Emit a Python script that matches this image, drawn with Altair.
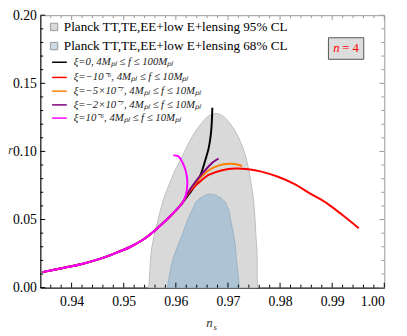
import altair as alt
import pandas as pd

# ---------------- data ----------------
# Planck 95% CL region: r levels with left / right n_s boundary
cl95_r = [0.0, 0.0119, 0.0238, 0.0357, 0.05, 0.0643, 0.0774, 0.0881, 0.0976, 0.1071, 0.1155, 0.1214, 0.1257, 0.1274, 0.128]
cl95_left = [0.9548, 0.9550, 0.9552, 0.9557, 0.9566, 0.9576, 0.9589, 0.9601, 0.9614, 0.9626, 0.9639, 0.9651, 0.9662, 0.9671, 0.9677]
cl95_right = [0.9757, 0.9756, 0.9756, 0.9754, 0.9752, 0.9749, 0.9744, 0.9739, 0.9733, 0.9724, 0.9713, 0.9702, 0.9691, 0.9683, 0.9677]

# Planck 68% CL region
cl68_r = [0.0, 0.0119, 0.0214, 0.031, 0.0405, 0.05, 0.0583, 0.0643, 0.0667, 0.0683, 0.0688]
cl68_left = [0.9584, 0.9589, 0.9595, 0.9604, 0.9614, 0.9623, 0.9633, 0.9642, 0.9651, 0.9660, 0.9665]
cl68_right = [0.9722, 0.9719, 0.9716, 0.9714, 0.9710, 0.9705, 0.9700, 0.9691, 0.9682, 0.9672, 0.9665]

trunk_ns = [0.9344, 0.9388, 0.9420, 0.9451, 0.9482, 0.9514, 0.9539, 0.9557, 0.9576, 0.9595, 0.9611]
trunk_r = [0.0114, 0.0148, 0.0174, 0.0207, 0.0250, 0.0302, 0.0357, 0.0410, 0.0476, 0.0548, 0.0614]

black_ns = trunk_ns + [0.9626, 0.9639, 0.9648, 0.9656, 0.9663, 0.9667, 0.9669, 0.9670]
black_r = trunk_r + [0.0690, 0.0762, 0.0833, 0.0929, 0.1024, 0.1119, 0.1214, 0.1321]

red_ns = trunk_ns + [0.9626, 0.9645, 0.9664, 0.9689, 0.9714, 0.9739, 0.9764, 0.9796, 0.9827, 0.9858, 0.9890, 0.9921, 0.9951]
red_r = trunk_r + [0.0702, 0.0774, 0.0829, 0.0862, 0.0874, 0.0869, 0.0852, 0.0814, 0.0762, 0.0690, 0.0619, 0.0529, 0.0436]

orange_ns = trunk_ns + [0.9626, 0.9645, 0.9664, 0.9683, 0.9702, 0.9714, 0.9727]
orange_r = trunk_r + [0.0710, 0.0798, 0.0864, 0.0898, 0.0910, 0.0907, 0.0893]

purple_ns = trunk_ns + [0.9626, 0.9642, 0.9658, 0.9670, 0.9682]
purple_r = trunk_r + [0.0714, 0.0798, 0.0869, 0.0917, 0.0948]

magenta_ns = trunk_ns + [0.9617, 0.9621, 0.9622, 0.9619, 0.9613, 0.9605, 0.9595]
magenta_r = trunk_r + [0.0655, 0.0714, 0.0786, 0.0857, 0.0917, 0.0964, 0.0971]

series_names = ["black", "red", "orange", "purple", "magenta"]
series_colors = ["#000000", "#ff0000", "#ff8000", "#800080", "#ff00ff"]
series_ns = [black_ns, red_ns, orange_ns, purple_ns, magenta_ns]
series_r = [black_r, red_r, orange_r, purple_r, magenta_r]
series_labels = [
    "ξ=0, 4Mₚₗ ≤ f ≤ 100Mₚₗ",
    "ξ=−10⁻⁶, 4Mₚₗ ≤ f ≤ 10Mₚₗ",
    "ξ=−5×10⁻⁷, 4Mₚₗ ≤ f ≤ 10Mₚₗ",
    "ξ=−2×10⁻⁷, 4Mₚₗ ≤ f ≤ 10Mₚₗ",
    "ξ=10⁻⁶, 4Mₚₗ ≤ f ≤ 10Mₚₗ",
]
region_labels = ["Planck TT,TE,EE+low E+lensing 95% CL", "Planck TT,TE,EE+low E+lensing 68% CL"]

x_major = [0.94, 0.95, 0.96, 0.97, 0.98, 0.99, 1.00]
y_major = [0.00, 0.05, 0.10, 0.15, 0.20]
x_minor = [round(0.934 + 0.002 * i, 3) for i in range(34)]
x_minor = [v for v in x_minor if round(v * 100, 6) % 1 != 0 and 0.934 < v < 1.0]
y_minor = [round(0.01 * i, 2) for i in range(1, 20) if i % 5 != 0]

# ---------------- layout ----------------
W, H = 351, 278
FONT = "Liberation Serif"
xs = alt.Scale(domain=[0.934, 1.0], nice=False, zero=False)
ys = alt.Scale(domain=[0.0, 0.2], nice=False, zero=False)

axis_common = dict(labelFont=FONT, labelFontSize=14, labelColor="black", tickSize=0,
                   domainColor="black", grid=False, title=None, format=".2f")

layers = []

# regions
df95 = pd.DataFrame({"r": cl95_r, "lo": cl95_left, "hi": cl95_right})
layers.append(
    alt.Chart(df95).mark_area(orient="horizontal", fill="#d9d9d9", stroke="#bdbdbd", strokeWidth=1, interpolate="monotone").encode(
        y=alt.Y("r:Q", scale=ys, axis=alt.Axis(values=y_major, labelPadding=4, **axis_common)),
        x=alt.X("lo:Q", scale=xs, axis=alt.Axis(values=x_major, labelPadding=7, **axis_common)),
        x2="hi:Q",
    )
)
df68 = pd.DataFrame({"r": cl68_r, "lo": cl68_left, "hi": cl68_right})
layers.append(
    alt.Chart(df68).mark_area(orient="horizontal", fill="#aec4d5", stroke="#98b3c8", strokeWidth=1, interpolate="monotone").encode(
        y=alt.Y("r:Q", scale=ys), x=alt.X("lo:Q", scale=xs), x2="hi:Q"
    )
)

# curves
for name, col, nsl, rl in zip(series_names, series_colors, series_ns, series_r):
    d = pd.DataFrame({"ns": nsl, "r": rl, "i": list(range(len(nsl)))})
    layers.append(
        alt.Chart(d).mark_line(color=col, strokeWidth=2, interpolate="catmull-rom", clip=True).encode(
            x=alt.X("ns:Q", scale=xs), y=alt.Y("r:Q", scale=ys), order="i:Q"
        )
    )

# frame ticks (inward, Mathematica style)
def xticks(vals, length, color):
    d = pd.DataFrame({"v": vals})
    b = alt.Chart(d).mark_rule(color=color, strokeWidth=1).encode(
        x=alt.X("v:Q", scale=xs), y=alt.value(H), y2=alt.value(H - length))
    t = alt.Chart(d).mark_rule(color="#999999", strokeWidth=1).encode(
        x=alt.X("v:Q", scale=xs), y=alt.value(0), y2=alt.value(length))
    return [b, t]

def yticks(vals, length, color):
    d = pd.DataFrame({"v": vals})
    l = alt.Chart(d).mark_rule(color=color, strokeWidth=1).encode(
        y=alt.Y("v:Q", scale=ys), x=alt.value(0), x2=alt.value(length))
    r = alt.Chart(d).mark_rule(color="#999999", strokeWidth=1).encode(
        y=alt.Y("v:Q", scale=ys), x=alt.value(W), x2=alt.value(W - length))
    return [l, r]

layers += xticks(x_major, 5, "black") + xticks(x_minor, 3, "black")
layers += yticks(y_major, 5, "black") + yticks(y_minor, 3, "black")

# legend
one = pd.DataFrame({"a": [0]})
reg_fill = ["#d9d9d9", "#c9dbe8"]
reg_y = [12, 31.5]
for lab, f, yy in zip(region_labels, reg_fill, reg_y):
    layers.append(alt.Chart(one).mark_square(size=56, fill=f, stroke="#999999", strokeWidth=1, opacity=1).encode(
        x=alt.value(14), y=alt.value(yy)))
    layers.append(alt.Chart(one).mark_text(text=lab, font=FONT, fontSize=13.4, align="left", baseline="middle", color="black").encode(
        x=alt.value(24), y=alt.value(yy)))

line_y = [48, 63.5, 77.5, 91.5, 105]
for lab, col, yy in zip(series_labels, series_colors, line_y):
    layers.append(alt.Chart(one).mark_rule(color=col, strokeWidth=1.5).encode(
        x=alt.value(12), x2=alt.value(27), y=alt.value(yy)))
    layers.append(alt.Chart(one).mark_text(text=lab, font=FONT, fontSize=11, fontStyle="italic", align="left", baseline="middle", color="#222222").encode(
        x=alt.value(34), y=alt.value(yy)))

# n = 4 box
layers.append(alt.Chart(one).mark_rect(fill="#dddddd", stroke="#555555", strokeWidth=1).encode(
    x=alt.value(294), x2=alt.value(330), y=alt.value(23), y2=alt.value(45)))
layers.append(alt.Chart(one).mark_text(text="n", font=FONT, fontSize=13, fontStyle="italic", align="left", baseline="middle", color="#ff0000").encode(
    x=alt.value(299), y=alt.value(34)))
layers.append(alt.Chart(one).mark_text(text="= 4", font=FONT, fontSize=13, align="left", baseline="middle", color="#ff0000").encode(
    x=alt.value(308), y=alt.value(34)))

# axis titles
layers.append(alt.Chart(one).mark_text(text="r", font=FONT, fontSize=12, fontStyle="italic", align="center", baseline="middle", color="#333333").encode(
    x=alt.value(-30.5), y=alt.value(138)))
layers.append(alt.Chart(one).mark_text(text="n", font=FONT, fontSize=13, fontStyle="italic", align="center", baseline="middle", color="#333333").encode(
    x=alt.value(172.5), y=alt.value(314)))
layers.append(alt.Chart(one).mark_text(text="s", font=FONT, fontSize=9, fontStyle="italic", align="center", baseline="middle", color="#333333").encode(
    x=alt.value(178.5), y=alt.value(318)))

chart = alt.layer(*layers).properties(
    width=W, height=H,
    autosize=alt.AutoSizeParams(type="none"),
    padding={"left": 33, "top": 4, "right": 15, "bottom": 46},
    background="white",
).configure_view(stroke="#999999", strokeWidth=1).configure_axis(
    labelFont=FONT, labelFontSize=14, labelColor="black", tickSize=0, domainColor="black", grid=False
)

chart.save("out.html", embed_options={"renderer": "svg", "actions": False})
